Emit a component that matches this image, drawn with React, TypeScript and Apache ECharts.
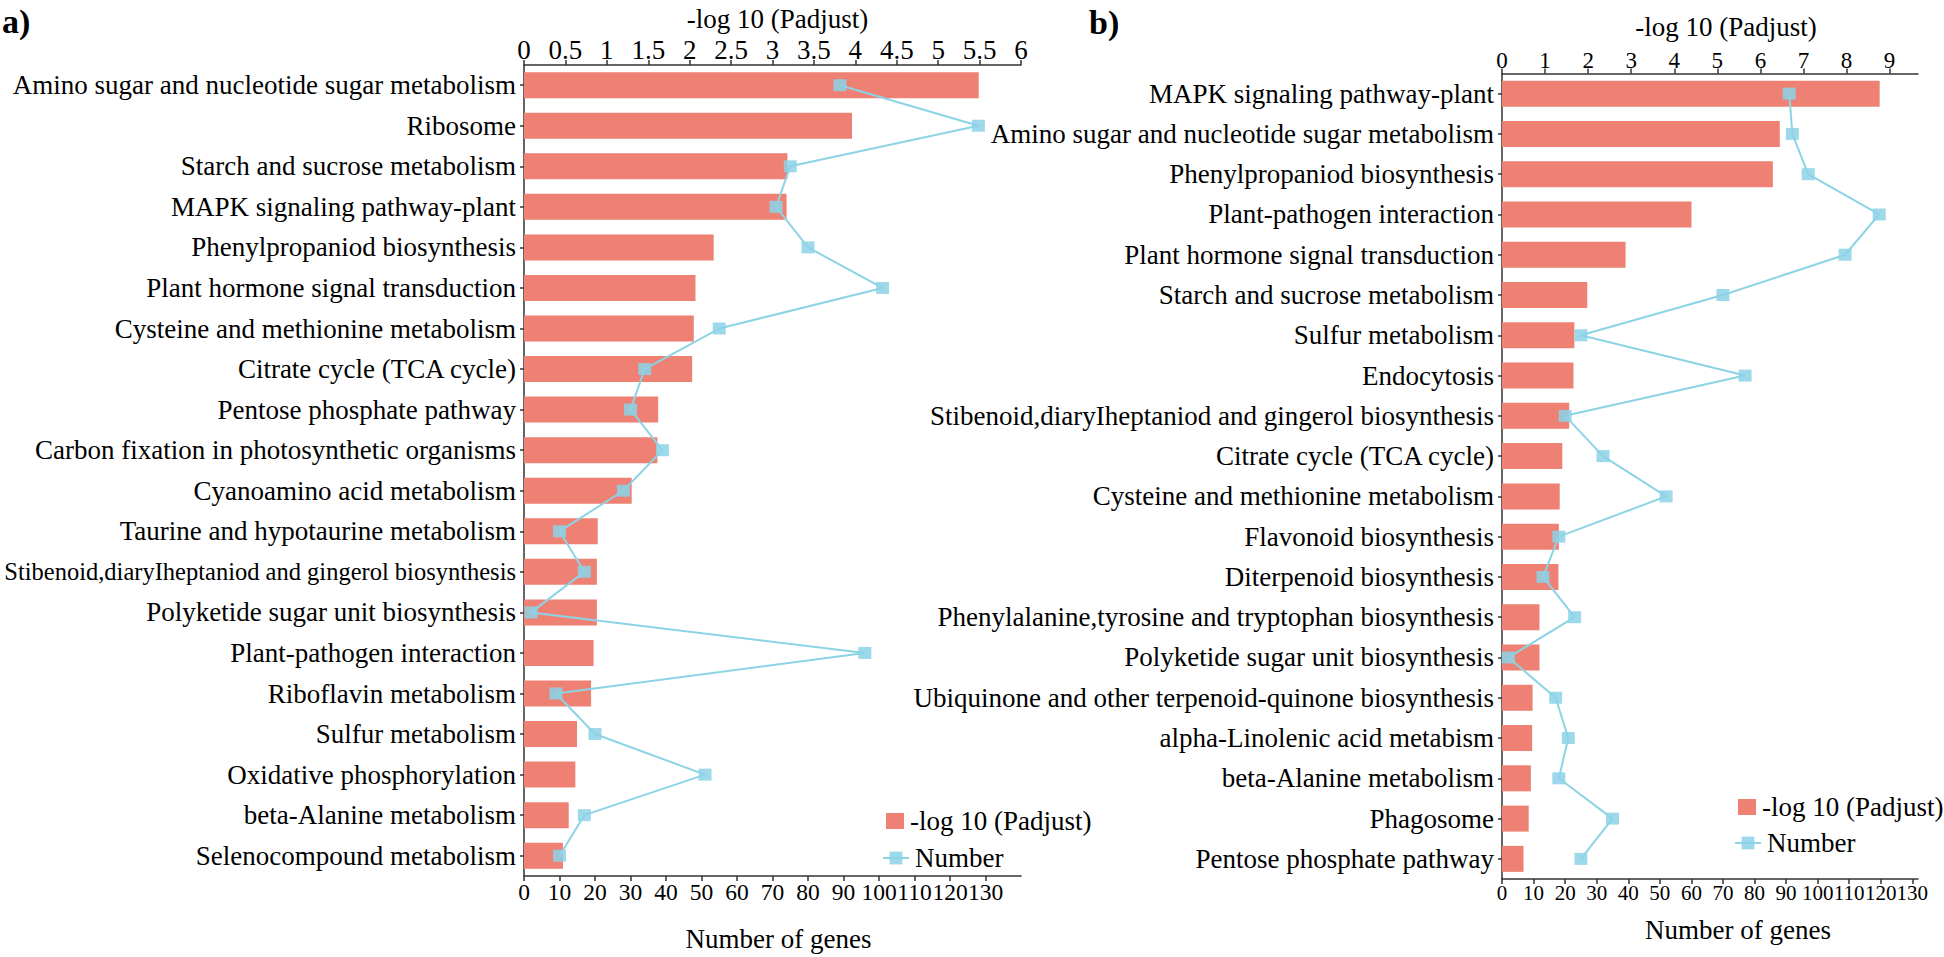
import React, { useEffect, useRef } from 'react';
import * as echarts from 'echarts';

const FONT = '"Liberation Serif", "Times New Roman", serif';

const categoriesA = [
  'Amino sugar and nucleotide sugar metabolism',
  'Ribosome',
  'Starch and sucrose metabolism',
  'MAPK signaling pathway-plant',
  'Phenylpropaniod biosynthesis',
  'Plant hormone signal transduction',
  'Cysteine and methionine metabolism',
  'Citrate cycle (TCA cycle)',
  'Pentose phosphate pathway',
  'Carbon fixation in photosynthetic organisms',
  'Cyanoamino acid metabolism',
  'Taurine and hypotaurine metabolism',
  'Stibenoid,diaryIheptaniod and gingerol biosynthesis',
  'Polyketide sugar unit biosynthesis',
  'Plant-pathogen interaction',
  'Riboflavin metabolism',
  'Sulfur metabolism',
  'Oxidative phosphorylation',
  'beta-Alanine metabolism',
  'Selenocompound metabolism',
];
const padjustA = [5.49, 3.96, 3.18, 3.17, 2.29, 2.07, 2.05, 2.03, 1.62, 1.61, 1.3, 0.89, 0.88, 0.88, 0.84, 0.81, 0.64, 0.62, 0.54, 0.47];
const genesA = [89, 128, 75, 71, 80, 101, 55, 34, 30, 39, 28, 10, 17, 2, 96, 9, 20, 51, 17, 10];

const categoriesB = [
  'MAPK signaling pathway-plant',
  'Amino sugar and nucleotide sugar metabolism',
  'Phenylpropaniod biosynthesis',
  'Plant-pathogen interaction',
  'Plant hormone signal transduction',
  'Starch and sucrose metabolism',
  'Sulfur metabolism',
  'Endocytosis',
  'Stibenoid,diaryIheptaniod and gingerol biosynthesis',
  'Citrate cycle (TCA cycle)',
  'Cysteine and methionine metabolism',
  'Flavonoid biosynthesis',
  'Diterpenoid biosynthesis',
  'Phenylalanine,tyrosine and tryptophan biosynthesis',
  'Polyketide sugar unit biosynthesis',
  'Ubiquinone and other terpenoid-quinone biosynthesis',
  'alpha-Linolenic acid metabism',
  'beta-Alanine metabolism',
  'Phagosome',
  'Pentose phosphate pathway',
];
const padjustB = [8.77, 6.45, 6.29, 4.4, 2.87, 1.98, 1.68, 1.66, 1.56, 1.4, 1.34, 1.32, 1.31, 0.87, 0.87, 0.71, 0.7, 0.67, 0.62, 0.5];
const genesB = [91, 92, 97, 119.5, 108.7, 70, 25, 77, 20, 32, 52, 18, 13, 23, 2, 17, 21, 18, 35, 25];

const topTicksA = { min: 0, max: 6, interval: 0.5 };
const bottomTicksA = { min: 0, max: 140, interval: 10 };
const topTicksB = { min: 0, max: 9.66, interval: 1 };
const bottomTicksB = { min: 0, max: 131.8, interval: 10 };

const BAR_NAME = '-log 10 (Padjust)';
const LINE_NAME = 'Number';
const BAR_COLOR = '#EE8173';
const LINE_COLOR = '#8CD3E6';

export default function App() {
  const ref = useRef<HTMLDivElement>(null);

  useEffect(() => {
    const chart = echarts.init(ref.current!, null, { renderer: 'svg', width: 1944, height: 957 });
    const axisLine = { show: true, lineStyle: { color: '#333', width: 1.5 } };
    const axisTick = { show: true, length: 5, lineStyle: { color: '#333', width: 1.5 } };
    const txt = { fontFamily: FONT, color: '#000' };

    const xAxis = (gridIndex: number, position: string, ticks: any, fontSize: number, name: string, nameGap: number, margin: number, showMax: boolean, namePad: number[]) => ({
      type: 'value',
      gridIndex,
      position,
      ...ticks,
      name,
      nameLocation: 'middle',
      nameGap,
      nameTextStyle: { ...txt, fontSize: 27, padding: namePad },
      axisLine,
      axisTick,
      splitLine: { show: false },
      axisLabel: { ...txt, fontSize, margin, showMaxLabel: showMax, showMinLabel: true },
    });

    const yAxis = (gridIndex: number, data: string[]) => ({
      type: 'category',
      gridIndex,
      data,
      inverse: true,
      axisLine,
      axisTick: { ...axisTick, length: 4, alignWithLabel: true },
      splitLine: { show: false },
      axisLabel: {
        ...txt,
        fontSize: 27,
        margin: 8,
        interval: 0,
        formatter: (v: string) => (gridIndex === 0 && v.startsWith('Stibenoid') ? `{s|${v}}` : v),
        rich: { s: { fontFamily: FONT, fontSize: 24.5, color: '#000' } },
      },
    });

    const barSeries = (xi: number, yi: number, data: number[]) => ({
      type: 'bar',
      name: BAR_NAME,
      xAxisIndex: xi,
      yAxisIndex: yi,
      data,
      barWidth: 26,
      itemStyle: { color: BAR_COLOR },
      z: 2,
    });
    const lineSeries = (xi: number, yi: number, data: number[]) => ({
      type: 'line',
      name: LINE_NAME,
      xAxisIndex: xi,
      yAxisIndex: yi,
      data,
      symbol: 'rect',
      symbolSize: [13, 12],
      lineStyle: { color: LINE_COLOR, width: 2 },
      itemStyle: { color: 'rgba(140,210,230,0.85)' },
      z: 3,
    });

    const legend = (left: number, top: number, name: string, w: number) => ({
      left,
      top,
      orient: 'vertical',
      padding: 0,
      itemWidth: w,
      itemHeight: 16,
      selectedMode: false,
      data: [name === BAR_NAME ? { name, icon: 'rect' } : { name }],
      textStyle: { ...txt, fontSize: 27, lineHeight: 30, padding: [0, 0, 0, 1] },
    });

    chart.setOption({
      animation: false,
      backgroundColor: '#fff',
      grid: [
        { left: 524, top: 61, width: 497, height: 821 },
        { left: 1502, top: 73.5, width: 416, height: 805.5 },
      ],
      xAxis: [
        xAxis(0, 'top', topTicksA, 27, BAR_NAME, 32, 1, true, [0, 0, 0, 10]),
        xAxis(0, 'bottom', bottomTicksA, 23.5, 'Number of genes', 49, 4, false, [0, 0, 0, 12]),
        xAxis(1, 'top', topTicksB, 23, BAR_NAME, 33, 2, false, [0, 0, 0, 32]),
        xAxis(1, 'bottom', bottomTicksB, 21, 'Number of genes', 37, 3, false, [0, 0, 0, 56]),
      ],
      yAxis: [yAxis(0, categoriesA), yAxis(1, categoriesB)],
      legend: [
        legend(886, 806, BAR_NAME, 18),
        legend(882, 843, LINE_NAME, 26),
        legend(1738, 792, BAR_NAME, 18),
        legend(1734, 828, LINE_NAME, 26),
      ],
      graphic: [
        { type: 'text', left: 2, top: 4, style: { text: 'a)', font: `bold 34px ${FONT}`, fill: '#000' } },
        { type: 'text', left: 1089, top: 5, style: { text: 'b)', font: `bold 34px ${FONT}`, fill: '#000' } },
      ],
      series: [
        barSeries(0, 0, padjustA),
        lineSeries(1, 0, genesA),
        barSeries(2, 1, padjustB),
        lineSeries(3, 1, genesB),
      ],
    });
    return () => chart.dispose();
  }, []);

  return (
    <div
      ref={ref}
      style={{ position: 'fixed', left: 0, top: 0, width: 1944, height: 957, background: '#fff' }}
    />
  );
}
